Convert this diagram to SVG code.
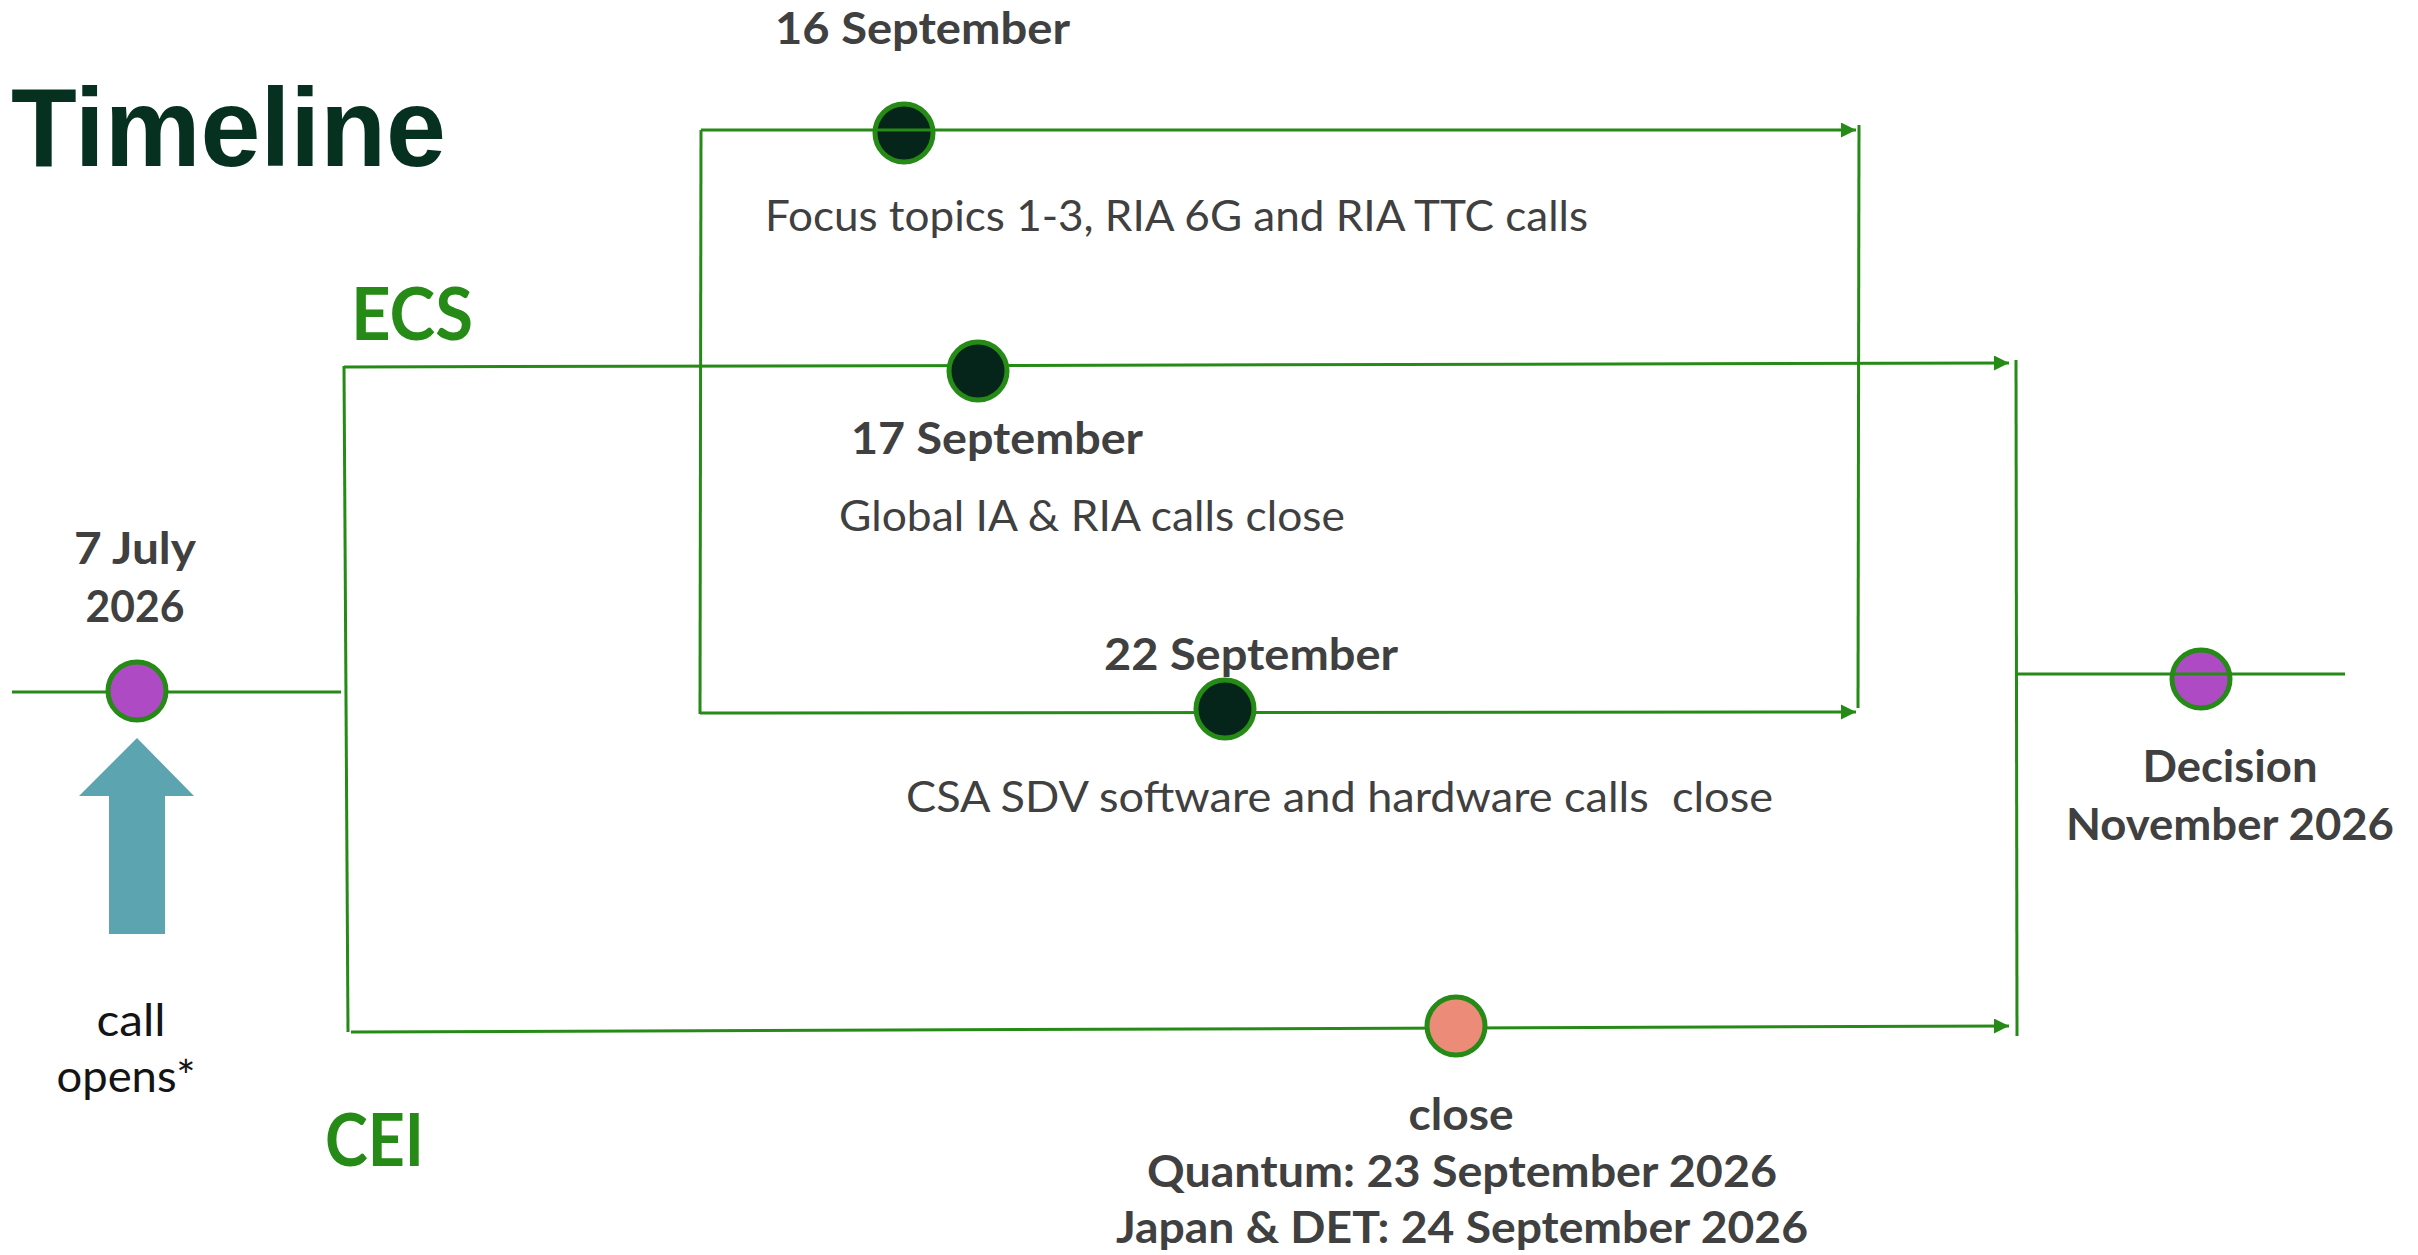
<svg xmlns="http://www.w3.org/2000/svg" width="2418" height="1255" viewBox="0 0 2418 1255">
<style>
.ln{stroke:#268A16;stroke-width:3;fill:none}
.dot{stroke:#268A16;stroke-width:5}
.dark{fill:#06251A}
.purple{fill:#AE4BC4}
.salmon{fill:#EC8B77}
.lbl{font-family:Lato,"Noto Sans",sans-serif;font-weight:bold;font-size:43px;fill:#404040}
.txt{font-family:Lato,"Noto Sans",sans-serif;font-size:43px;fill:#404040;white-space:pre}
.blk{font-family:Lato,"Noto Sans",sans-serif;font-size:45px;fill:#141414}
.grp{font-family:Lato,"Noto Sans",sans-serif;font-weight:bold;font-size:73px;fill:#268A16}
.title{font-family:"Liberation Sans",Arial,sans-serif;font-weight:bold;font-size:112px;fill:#06301F}
</style>
<defs>
<marker id="ah" markerUnits="userSpaceOnUse" markerWidth="16" markerHeight="16" refX="15" refY="7.5" orient="auto">
<path d="M0,0 L15,7.5 L0,15 z" fill="#268A16"/>
</marker>
</defs>

<g id="title">
<text class="title" x="11" y="166" textLength="435" lengthAdjust="spacingAndGlyphs">Timeline</text>
</g>

<g id="node-16sep">
<circle class="dot dark" cx="904" cy="133" r="29"/>
<text class="lbl" x="775" y="44" textLength="295" lengthAdjust="spacingAndGlyphs">16 September</text>
<text class="txt" x="765" y="231" textLength="823" lengthAdjust="spacingAndGlyphs">Focus topics 1-3, RIA 6G and RIA TTC calls</text>
</g>

<g id="node-decision">
<circle class="dot purple" cx="2201" cy="679" r="29"/>
<text class="lbl" x="2230" y="782" text-anchor="middle" textLength="175" lengthAdjust="spacingAndGlyphs">Decision</text>
<text class="lbl" x="2230" y="840" text-anchor="middle" textLength="328" lengthAdjust="spacingAndGlyphs">November 2026</text>
</g>

<g id="connectors">
<line class="ln" x1="12" y1="692" x2="341" y2="692"/>
<line class="ln" x1="344" y1="366" x2="348" y2="1032"/>
<line class="ln" x1="344" y1="367" x2="2009" y2="363" marker-end="url(#ah)"/>
<line class="ln" x1="351" y1="1032" x2="2009" y2="1026" marker-end="url(#ah)"/>
<line class="ln" x1="701" y1="130" x2="1856" y2="130" marker-end="url(#ah)"/>
<line class="ln" x1="701" y1="130" x2="700" y2="714"/>
<line class="ln" x1="700" y1="713" x2="1856" y2="712" marker-end="url(#ah)"/>
<line class="ln" x1="1859" y1="125" x2="1858" y2="708"/>
<line class="ln" x1="2016" y1="360" x2="2017" y2="1036"/>
<line class="ln" x1="2017" y1="674" x2="2345" y2="674"/>
</g>

<g id="node-ecs">
<text class="grp" x="351" y="340" textLength="122" lengthAdjust="spacingAndGlyphs">ECS</text>
</g>

<g id="node-cei">
<text class="grp" x="325" y="1166" textLength="99" lengthAdjust="spacingAndGlyphs">CEI</text>
</g>

<g id="node-7july">
<circle class="dot purple" cx="137" cy="691" r="29"/>
<text class="lbl" x="135" y="564" text-anchor="middle" textLength="122" lengthAdjust="spacingAndGlyphs">7 July</text>
<text class="lbl" x="135" y="622" text-anchor="middle" textLength="99" lengthAdjust="spacingAndGlyphs">2026</text>
</g>

<g id="node-call-opens">
<polygon points="137,738 194,796 165,796 165,934 109,934 109,796 79,796" fill="#5BA4B0"/>
<text class="blk" x="131" y="1036" text-anchor="middle" textLength="69" lengthAdjust="spacingAndGlyphs">call</text>
<text class="blk" x="126" y="1092" text-anchor="middle" textLength="139" lengthAdjust="spacingAndGlyphs">opens*</text>
</g>

<g id="node-17sep">
<circle class="dot dark" cx="978" cy="371" r="29"/>
<text class="lbl" x="851" y="454" textLength="292" lengthAdjust="spacingAndGlyphs">17 September</text>
<text class="txt" x="839" y="531" textLength="506" lengthAdjust="spacingAndGlyphs">Global IA &amp; RIA calls close</text>
</g>

<g id="node-22sep">
<circle class="dot dark" cx="1225" cy="709" r="29"/>
<text class="lbl" x="1104" y="670" textLength="294" lengthAdjust="spacingAndGlyphs">22 September</text>
<text class="txt" x="906" y="812" textLength="867" lengthAdjust="spacingAndGlyphs">CSA SDV software and hardware calls  close</text>
</g>

<g id="node-cei-close">
<circle class="dot salmon" cx="1456" cy="1026" r="29"/>
<text class="lbl" x="1461" y="1130" text-anchor="middle" textLength="105" lengthAdjust="spacingAndGlyphs">close</text>
<text class="lbl" x="1462" y="1187" text-anchor="middle" textLength="630" lengthAdjust="spacingAndGlyphs">Quantum: 23 September 2026</text>
<text class="lbl" x="1462" y="1243" text-anchor="middle" textLength="692" lengthAdjust="spacingAndGlyphs">Japan &amp; DET: 24 September 2026</text>
</g>
</svg>
